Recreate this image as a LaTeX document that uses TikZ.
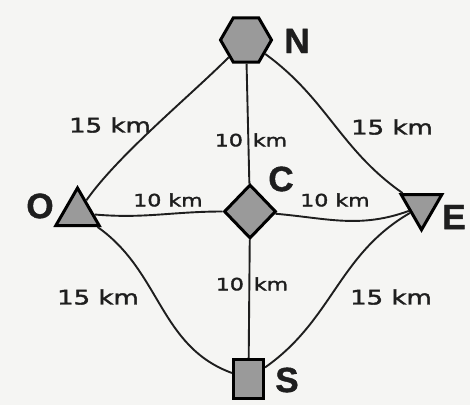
\documentclass[tikz,border=0pt]{standalone}
\usepackage{fontspec}
\setmainfont{DejaVu Sans}
\newfontfamily\handfont[FakeStretch=1.3,FakeBold=2]{DejaVu Sans}
\newfontfamily\capfont[FakeBold=1.2]{Liberation Sans Bold}
\usetikzlibrary{shapes.geometric}
\definecolor{paper}{HTML}{F5F5F3}
\definecolor{shade}{HTML}{9A9A9A}
\definecolor{ink}{HTML}{1E1E1E}
\tikzset{
  town/.style={draw=black, fill=shade, line width=3pt, inner sep=0pt},
  road/.style={draw=ink, line width=1.9pt},
  dist/.style={font=\handfont\fontsize{20}{24}\selectfont, text=ink, inner sep=0pt},
  shortdist/.style={font=\handfont\fontsize{17}{20}\selectfont, text=ink, inner sep=0pt},
  townname/.style={font=\capfont\fontsize{35}{40}\selectfont, text=ink, inner sep=0pt}
}
\begin{document}
\begin{tikzpicture}[x=1pt,y=1pt]
  % paper
  \fill[paper] (0,0) rectangle (470,405);
  \useasboundingbox (0,0) rectangle (470,405);

  % towns
  \node[town, regular polygon, regular polygon sides=6, minimum size=51pt] (N) at (246,365) {};
  \node[town, regular polygon, regular polygon sides=3, minimum size=50pt] (O) at (77.5,192) {};
  \node[town, diamond, minimum width=52pt, minimum height=54pt] (C) at (250,193.5) {};
  \node[town, regular polygon, regular polygon sides=3, shape border rotate=180, minimum size=47pt] (E) at (421.5,198.7) {};
  \node[town, rectangle, minimum width=30pt, minimum height=39pt] (S) at (248.5,26) {};

  % town names
  \node[townname] (Nl) at (297,364) {N};
  \node[townname] (Ol) at (40,199) {O};
  \node[townname] (Cl) at (281,226) {C};
  \node[townname] (El) at (454,188) {E};
  \node[townname] (Sl) at (287,25) {S};

  % outer roads
  \draw[road] (O) to[out=55, in=225, looseness=0.7] (N);
  \draw[road] (N) to[out=-36, in=145] (E);
  \draw[road] (O) to[out=-35, in=160] (S);
  \draw[road] (S) to[out=35, in=-150] (E);

  % roads through the centre
  \draw[road] (N) -- (C);
  \draw[road] (C) -- (S);
  \draw[road] (O) to[out=-5, in=180] (C);
  \draw[road] (C) to[out=-5, in=200] (E);

  % distances
  \node[dist] (d1) at (110,280) {15 km};
  \node[dist] (d2) at (392,278) {15 km};
  \node[dist] (d3) at (98,108) {15 km};
  \node[dist] (d4) at (391,108) {15 km};
  \node[shortdist] (d5) at (251,265) {10\hspace{10pt}km};
  \node[shortdist] (d6) at (168,205) {10 km};
  \node[shortdist] (d7) at (335,205) {10 km};
  \node[shortdist] (d8) at (252,121) {10\hspace{10pt}km};
\end{tikzpicture}
\end{document}
